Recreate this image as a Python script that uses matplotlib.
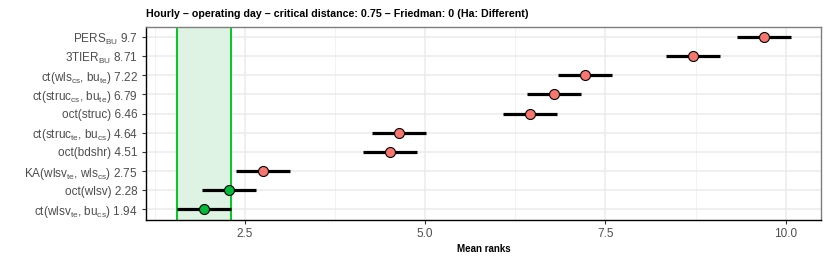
import matplotlib
matplotlib.use("Agg")
import matplotlib.pyplot as plt
from matplotlib.ticker import MultipleLocator

plt.rcParams['font.family'] = ['Liberation Sans', 'DejaVu Sans']
plt.rcParams['mathtext.fontset'] = 'custom'
plt.rcParams['mathtext.rm'] = 'Liberation Sans'
plt.rcParams['mathtext.it'] = 'Liberation Sans'
plt.rcParams['mathtext.default'] = 'regular'

# Data (bottom to top)
methods = [
    r"ct(wlsv$_{te}$, bu$_{cs}$)",
    r"oct(wlsv)",
    r"KA(wlsv$_{te}$, wls$_{cs}$)",
    r"oct(bdshr)",
    r"ct(struc$_{te}$, bu$_{cs}$)",
    r"oct(struc)",
    r"ct(struc$_{cs}$, bu$_{te}$)",
    r"ct(wls$_{cs}$, bu$_{te}$)",
    r"3TIER$_{BU}$",
    r"PERS$_{BU}$",
]
mean_ranks = [1.94, 2.28, 2.75, 4.51, 4.64, 6.46, 6.79, 7.22, 8.71, 9.70]
rank_labels = ["1.94", "2.28", "2.75", "4.51", "4.64", "6.46", "6.79", "7.22", "8.71", "9.7"]
critical_distance = 0.75
title = "Hourly \u2013 operating day \u2013 critical distance: 0.75 \u2013 Friedman: 0 (Ha: Different)"
xticks = [2.5, 5.0, 7.5, 10.0]

RED = "#F8766D"
GREEN = "#00BA38"
BAND = "#00C81E"

fig = plt.figure(figsize=(8.3, 2.6), dpi=100)
ax = fig.add_axes([146/830, 40/260, (821-146)/830, (220-27)/260])

ypos = list(range(1, len(methods) + 1))
best = min(mean_ranks)
half = critical_distance / 2

# critical distance band
ax.axvspan(best - half, best + half, color="#DFF3E4", zorder=1, lw=0)
ax.axvline(best - half, color=BAND, lw=1.4, zorder=2)
ax.axvline(best + half, color=BAND, lw=1.4, zorder=2)

for y, m in zip(ypos, mean_ranks):
    col = GREEN if (m - best) <= critical_distance else RED
    ax.plot([m - half, m + half], [y, y], color="black", lw=2.3, zorder=3,
            solid_capstyle="butt")
    ax.plot(m, y, "o", ms=7.2, mfc=col, mec="black", mew=0.8, zorder=4)

ax.set_xlim(1.13, 10.49)
ax.set_ylim(0.45, len(methods) + 0.52)
ax.set_yticks(ypos)
ax.set_yticklabels([f"{n} {r}" for n, r in zip(methods, rank_labels)])
ax.set_xticks(xticks)
ax.set_xticklabels([f"{v:.1f}" for v in xticks])
ax.xaxis.set_minor_locator(MultipleLocator(1.25))

ax.grid(True, which="major", color="#EBEBEB", lw=1.1, zorder=0)
ax.grid(True, which="minor", axis="x", color="#F2F2F2", lw=0.7, zorder=0)
ax.set_axisbelow(True)

for s in ["top", "right"]:
    ax.spines[s].set_color("#7F7F7F")
    ax.spines[s].set_linewidth(1.0)
for s in ["left", "bottom"]:
    ax.spines[s].set_color("black")
    ax.spines[s].set_linewidth(1.0)

ax.tick_params(axis="both", which="major", length=3, width=0.8, color="#333333",
               labelsize=8.5, labelcolor="#4D4D4D", pad=3)
ax.tick_params(axis="x", which="minor", length=0)

ax.set_xlabel("Mean ranks", fontsize=7, fontweight="bold", labelpad=3)
ax.set_title(title, fontsize=7.7, fontweight="bold", loc="left", pad=7)

fig.savefig("out.png", dpi=100)
